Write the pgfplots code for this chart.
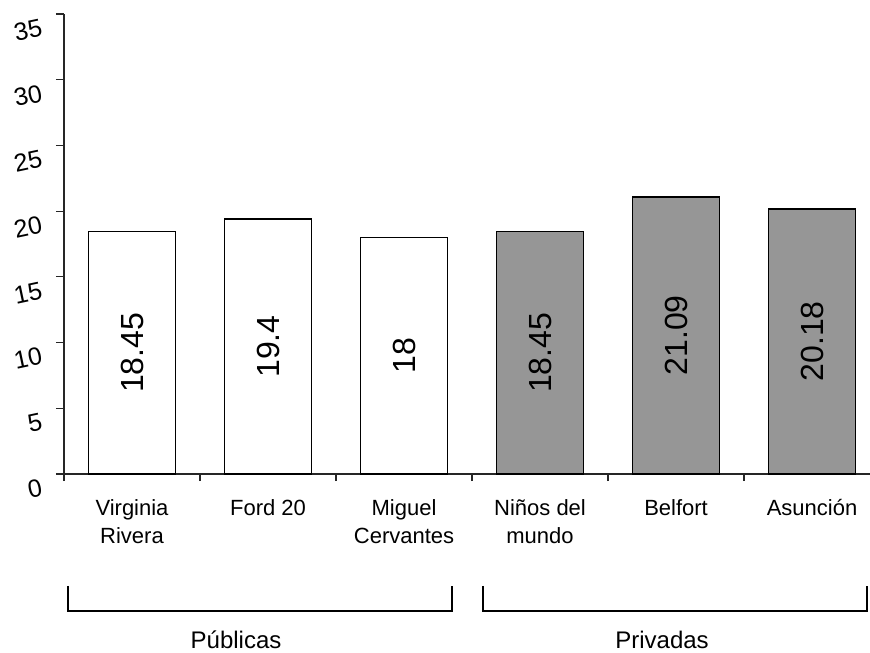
\documentclass[border=0pt]{standalone}
\usepackage{pgfplots}
\pgfplotsset{compat=1.18}
\usepackage{fontspec}
\setmainfont{Liberation Sans}
\definecolor{barGray}{HTML}{969696}

\begin{document}
\begin{tikzpicture}
\useasboundingbox (-32pt,-89pt) rectangle (403pt,237pt);
\begin{axis}[
  at={(0pt,0pt)}, anchor=south west,
  scale only axis, width=403pt, height=230pt,
  xmin=-0.5, xmax=5.426, ymin=0, ymax=35,
  axis x line=bottom, axis y line=left,
  axis line style={-, line width=0.6pt, color=black!85},
  clip=false,
  ytick={0,5,...,35},
  yticklabel={\fontsize{12.5}{15}\selectfont\pgfmathprintnumber[assume math mode=true]{\tick}},
  xtick={0,...,5},
  xticklabels={{Virginia\\Rivera},{Ford 20},{Miguel\\Cervantes},{Niños del\\mundo},{Belfort},{Asunción}},
  minor xtick={-0.5,0.5,1.5,2.5,3.5,4.5},
  tick align=outside,
  major tick length=4pt, minor tick length=3.5pt,
  major x tick style={draw=none},
  minor x tick style={draw=black!85, line width=0.6pt},
  major y tick style={draw=black!85, line width=0.6pt},
  /pgf/number format/assume math mode=true,
  yticklabel style={inner sep=0pt, anchor=east, xshift=-7pt, yshift=-6.5pt, rotate=12},
  xticklabel style={font=\fontsize{11}{14}\selectfont, align=center, anchor=north, yshift=-5pt},
  ybar, bar width=43.5pt, bar shift=0pt,
  nodes near coords,
  visualization depends on={rawy \as \rawy},
  every node near coord/.append style={anchor=center, font=\fontsize{16}{19}\selectfont, color=black, yshift={-3.2857pt*\rawy}, rotate=90},
]
% public schools
\addplot[fill=white, draw=black, line width=0.8pt] coordinates {(0,18.45) (1,19.4) (2,18)};
% private schools
\addplot[fill=barGray, draw=black, line width=0.8pt] coordinates {(3,18.45) (4,21.09) (5,20.18)};

% group brackets
\draw[line width=0.9pt, black] (axis cs:-0.471,-8.52) |- (axis cs:2.353,-10.42) -- (axis cs:2.353,-8.52);
\draw[line width=0.9pt, black] (axis cs:2.581,-8.52) |- (axis cs:5.404,-10.42) -- (axis cs:5.404,-8.52);
\node[font=\fontsize{12}{14}\selectfont] at (axis cs:0.765,-12.63) {Públicas};
\node[font=\fontsize{12}{14}\selectfont] at (axis cs:3.897,-12.63) {Privadas};
\end{axis}
\end{tikzpicture}
\end{document}
